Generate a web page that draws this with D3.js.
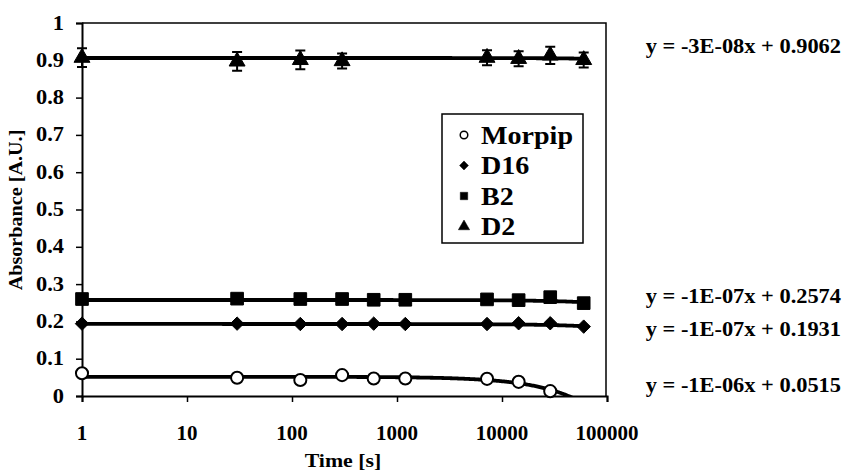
<!DOCTYPE html>
<html><head><meta charset="utf-8">
<script src="https://cdn.jsdelivr.net/npm/d3@7"></script>
<style>body{margin:0;background:#fff}text{font-family:"Liberation Serif","Times New Roman",serif;font-weight:bold;fill:#000}</style>
</head><body><svg id="c" width="844" height="472"></svg>
<script>
const times = [1, 30, 120, 300, 600, 1200, 7200, 14400, 28800, 60000];
const morpip = [0.061, 0.049, 0.043, 0.056, 0.047, 0.047, 0.046, 0.038, 0.013, null];
const d16 = [0.194, 0.194, 0.193, 0.193, 0.194, 0.193, 0.193, 0.195, 0.195, 0.186];
const b2 = [0.260, 0.261, 0.260, 0.260, 0.258, 0.258, 0.259, 0.257, 0.265, 0.249];
const d2 = [0.907, 0.897, 0.901, 0.898, null, null, 0.907, 0.904, 0.913, 0.901];
const d2Err = [0.025, 0.025, 0.025, 0.02, null, null, 0.02, 0.02, 0.023, 0.02];
const seriesNames = ["Morpip", "D16", "B2", "D2"];
const trendSlopes = [-1.2e-6, -1e-7, -1e-7, -3e-8];
const trendIntercepts = [0.0515, 0.1931, 0.2574, 0.9062];
const trendLabels = ["y = -1E-06x + 0.0515", "y = -1E-07x + 0.1931", "y = -1E-07x + 0.2574", "y = -3E-08x + 0.9062"];
const xTicks = [1, 10, 100, 1000, 10000, 100000];
const yTicks = [0, 0.1, 0.2, 0.3, 0.4, 0.5, 0.6, 0.7, 0.8, 0.9, 1];

const svg = d3.select("#c");
const L = 82, R = 607, T = 23, B = 396;
const x = d3.scaleLog().domain([1, 100000]).range([L, R]);
const y = d3.scaleLinear().domain([0, 1]).range([B, T]);

function stext(g, px, py, str, size, sx, anchor, rot) {
  return g.append("text")
    .attr("transform", `translate(${px},${py})` + (rot ? ` rotate(${rot})` : "") + ` scale(${sx},1)`)
    .attr("text-anchor", anchor).attr("dominant-baseline", "central")
    .style("font-size", size + "px").text(str);
}

// frame
svg.append("path").attr("d", `M${L},${T}H${R - 1}V${B}`).attr("fill", "none").attr("stroke", "#000").attr("stroke-width", 1.5);

// axes
const gx = svg.append("g").attr("transform", `translate(0,${B})`)
  .call(d3.axisBottom(x).tickValues(xTicks).tickSize(6).tickFormat(""));
const gy = svg.append("g").attr("transform", `translate(${L},0)`)
  .call(d3.axisLeft(y).tickValues(yTicks).tickSize(6).tickFormat(""));
[gx, gy].forEach(g => { g.select(".domain").attr("stroke-width", 2); g.selectAll(".tick line").attr("stroke-width", 1.5); });

xTicks.forEach(t => stext(svg, x(t), 433, String(t), 21, 1.0, "middle"));
yTicks.forEach(t => stext(svg, 64, y(t), String(t), 20, 1.12, "end"));
stext(svg, 343, 461, "Time [s]", 19, 1.15, "middle");
stext(svg, 16, 210, "Absorbance [A.U.]", 18, 1.12, "middle", -90);

// clip
svg.append("clipPath").attr("id", "pc").append("rect").attr("x", L).attr("y", T).attr("width", R - L).attr("height", B - T);
const plot = svg.append("g").attr("clip-path", "url(#pc)");

// trendlines
const tline = d3.line().x(d => x(d[0])).y(d => y(d[1]));
trendSlopes.forEach((m, i) => {
  const pts = d3.range(0, 4.7782, 0.01).map(e => { const t = Math.pow(10, e); return [t, m * t + trendIntercepts[i]]; });
  pts.push([60000, m * 60000 + trendIntercepts[i]]);
  plot.append("path").attr("d", tline(pts)).attr("fill", "none").attr("stroke", "#000").attr("stroke-width", 3.8);
});

const sym = {
  circle: d3.symbol().type(d3.symbolCircle),
  diamond: d3.symbol().type(d3.symbolDiamond2),
  square: d3.symbol().type(d3.symbolSquare),
  triangle: d3.symbol().type(d3.symbolTriangle)
};

// D2 error bars
times.forEach((t, i) => {
  if (d2[i] == null) return;
  const cx = x(t), y1 = y(d2[i] + d2Err[i]), y0 = y(d2[i] - d2Err[i]);
  svg.append("path").attr("d", `M${cx},${y0}V${y1}M${cx - 5},${y1}H${cx + 5}M${cx - 5},${y0}H${cx + 5}`)
    .attr("stroke", "#000").attr("stroke-width", 2).attr("fill", "none");
});
function drawPts(vals, shape, size, fill) {
  times.forEach((t, i) => {
    if (vals[i] == null) return;
    svg.append("path").attr("transform", `translate(${x(t)},${y(vals[i])})`)
      .attr("d", sym[shape].size(size)()).attr("fill", fill).attr("stroke", "#000").attr("stroke-width", fill === "#fff" ? 2 : 1);
  });
}
drawPts(d2, "triangle", 110, "#000");
drawPts(b2, "square", 160, "#000");
drawPts(d16, "diamond", 115, "#000");
drawPts(morpip, "circle", 115, "#fff");

// legend
const lg = svg.append("g");
lg.append("rect").attr("x", 442).attr("y", 114).attr("width", 141).attr("height", 129).attr("fill", "#fff").attr("stroke", "#000").attr("stroke-width", 1.5);
const legShapes = [["circle", "#fff", 45], ["diamond", "#000", 50], ["square", "#000", 55], ["triangle", "#000", 55]];
seriesNames.forEach((n, i) => {
  const ly = 135 + i * 30.5;
  lg.append("path").attr("transform", `translate(464,${ly})`).attr("d", sym[legShapes[i][0]].size(legShapes[i][2])())
    .attr("fill", legShapes[i][1]).attr("stroke", "#000").attr("stroke-width", legShapes[i][1] === "#fff" ? 1.5 : 0.5);
  stext(lg, 481, ly, n, 26, 1.08, "start");
});

// trend equations
const eqY = [385, 329, 296, 46];
trendLabels.forEach((s, i) => stext(svg, 841, eqY[i], s, 20, 1.12, "end"));
</script></body></html>
